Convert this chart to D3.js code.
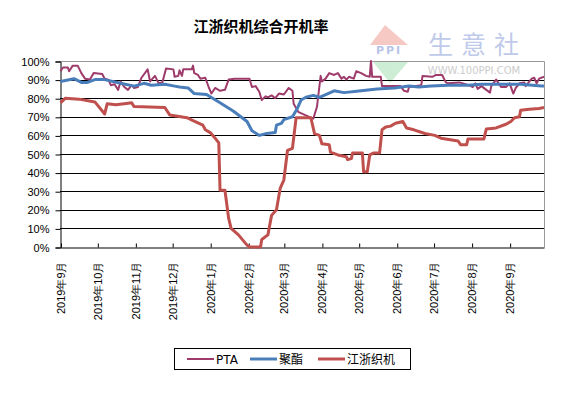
<!DOCTYPE html>
<html>
<head>
<meta charset="utf-8">
<script src="https://cdn.jsdelivr.net/npm/d3@7"></script>
<style>
  body { margin: 0; background: #fff; }
  svg { display: block; font-family: "DejaVu Sans", "Noto Sans CJK SC", sans-serif; }
</style>
</head>
<body>
<div id="chart"></div>
<script>
// Jiangsu/Zhejiang loom operating rate vs PTA and polyester
let seriesNames = ["PTA", "聚酯", "江浙织机"];
let seriesColors = ["#9e3b6b", "#4a7ebb", "#c0504d"];

let ptaDates = ["2019-09-01","2019-09-03","2019-09-07","2019-09-08","2019-09-11","2019-09-15","2019-09-18","2019-09-21","2019-09-25","2019-09-28",
  "2019-10-05","2019-10-07","2019-10-10","2019-10-12","2019-10-15","2019-10-18","2019-10-20","2019-10-23","2019-10-26","2019-10-29","2019-10-31",
  "2019-11-03","2019-11-06","2019-11-11","2019-11-13","2019-11-17","2019-11-20","2019-11-23","2019-11-26","2019-12-02","2019-12-03","2019-12-06",
  "2019-12-07","2019-12-09","2019-12-10","2019-12-17","2019-12-18","2019-12-19","2019-12-22","2019-12-24","2019-12-28","2019-12-31",
  "2020-01-02","2020-01-05","2020-01-09","2020-01-13","2020-01-16","2020-01-21","2020-02-02","2020-02-04","2020-02-07","2020-02-10","2020-02-12",
  "2020-02-15","2020-02-17","2020-02-20","2020-02-23","2020-02-26","2020-03-01","2020-03-05","2020-03-08","2020-03-09","2020-03-13","2020-03-25",
  "2020-03-28","2020-03-31","2020-04-01","2020-04-04","2020-04-07","2020-04-11","2020-04-14","2020-04-17","2020-04-19","2020-04-21","2020-04-23",
  "2020-04-27","2020-04-29","2020-05-03","2020-05-07","2020-05-10","2020-05-11","2020-05-12","2020-05-19","2020-05-20","2020-06-04","2020-06-07",
  "2020-06-10","2020-06-11","2020-06-21","2020-06-22","2020-06-30","2020-07-03","2020-07-08","2020-07-11","2020-07-13","2020-07-22","2020-07-30",
  "2020-08-02","2020-08-04","2020-08-06","2020-08-09","2020-08-13","2020-08-16","2020-08-17","2020-08-21","2020-08-25","2020-08-29","2020-09-01",
  "2020-09-04","2020-09-06","2020-09-09","2020-09-13","2020-09-14","2020-09-19","2020-09-21","2020-09-23","2020-09-25","2020-09-29"];
let ptaRates = [94.5,96.5,96.5,94.5,97.5,97.5,93.5,90.5,90,93.5,
  93,90.5,90,87,87.5,84.5,89,86,84.5,87,85.5,
  86,91,95.5,89,92,88,88.5,96,95.5,91.5,92,
  95,92,95.5,95.5,97.5,93.5,92.5,90.5,91,85.5,
  82.5,85.5,84,84.5,90,90.5,90.5,86,86.5,83.5,79,
  81,80.5,81.5,80,82.5,82,85.5,84,77,72.5,69,
  75.4,92,89,90.5,93.5,92.5,93.5,90.5,91.5,90,91.5,
  90.5,94.5,93.5,92,91.5,100,91.5,91.5,86.5,86.5,84,
  83.5,86,87,92,91.5,92.5,92.5,88.5,88,88.5,87,
  86,88,85,86.5,84.5,83,86.5,90,86,86,88,
  82.5,85.5,88,88.5,86.5,90.5,91,88,90.5,91.5];

let polyDates = ["2019-09-01","2019-09-12","2019-09-18","2019-09-23","2019-09-29","2019-10-07","2019-10-20","2019-10-31","2019-11-08","2019-11-14",
  "2019-11-25","2019-12-03","2019-12-07","2019-12-14","2019-12-19","2019-12-29","2020-01-08","2020-01-20","2020-01-31","2020-02-04",
  "2020-02-10","2020-02-16","2020-02-23","2020-02-24","2020-02-28","2020-03-01","2020-03-08","2020-03-12","2020-03-15","2020-03-19",
  "2020-03-25","2020-03-30","2020-04-06","2020-04-11","2020-04-19","2020-05-03","2020-05-16","2020-05-30","2020-06-11","2020-06-19",
  "2020-06-29","2020-07-13","2020-07-29","2020-08-09","2020-08-25","2020-09-10","2020-09-27","2020-09-29"];
let polyRates = [89,90.5,88.5,88.5,90,90,88,86.5,88,87,
  87.5,86.5,86,85.5,82.5,82,78,73,67.5,62.5,
  60,61,61.5,65.5,66.5,68.5,70,74.5,79,80.5,
  81.5,80.5,82.5,84,83,84,85,85.5,86.5,86,
  86.5,87,87,87.5,87.5,87.5,86.5,86.5];

let loomDates = ["2019-09-01","2019-09-05","2019-09-16","2019-09-29","2019-10-07","2019-10-09","2019-10-16","2019-10-23","2019-10-29","2019-10-31",
  "2019-11-25","2019-11-29","2019-12-13","2019-12-18","2019-12-26","2019-12-28","2020-01-01","2020-01-05","2020-01-08","2020-01-09",
  "2020-01-13","2020-01-16","2020-01-18","2020-01-24","2020-01-31","2020-02-02","2020-02-11","2020-02-12","2020-02-17","2020-02-20",
  "2020-02-24","2020-02-27","2020-03-01","2020-03-04","2020-03-08","2020-03-11","2020-03-23","2020-03-26","2020-03-30","2020-04-01",
  "2020-04-07","2020-04-08","2020-04-14","2020-04-21","2020-04-22","2020-04-25","2020-04-26","2020-05-04","2020-05-05","2020-05-08",
  "2020-05-10","2020-05-13","2020-05-18","2020-05-20","2020-05-23","2020-05-27","2020-05-31","2020-06-06","2020-06-09","2020-06-15",
  "2020-06-24","2020-07-02","2020-07-07","2020-07-21","2020-07-23","2020-07-28","2020-07-29","2020-08-11","2020-08-13","2020-08-21",
  "2020-08-29","2020-09-02","2020-09-05","2020-09-09","2020-09-10","2020-09-17","2020-09-25","2020-09-29"];
let loomRates = [77.5,80,79.5,78,71.5,77,76.5,77,77.5,75.5,
  75,71,69.5,68,65.5,63,61.5,58.5,56,30.5,
  30.5,15.5,10,6.5,1,0,0,4,6.5,17,
  20,31.5,36,52,53,69.5,69.5,61,60,55.5,
  55,51,49.5,48.5,47,47.5,50.5,50.5,40.5,40.5,
  49.5,50.5,50.5,63,64.5,65,66.5,67.5,64,63,
  61,60,58.5,57,55,55,58,58,63.5,64,
  66,67.5,69.5,70,73.5,74,74.5,75];

let yTicks = [0, 10, 20, 30, 40, 50, 60, 70, 80, 90, 100];

let parseDate = d3.timeParse("%Y-%m-%d");
let series = [
  {name: seriesNames[0], color: seriesColors[0], width: 2, values: ptaDates.map((d, i) => ({date: parseDate(d), value: ptaRates[i]}))},
  {name: seriesNames[1], color: seriesColors[1], width: 3, values: polyDates.map((d, i) => ({date: parseDate(d), value: polyRates[i]}))},
  {name: seriesNames[2], color: seriesColors[2], width: 3, values: loomDates.map((d, i) => ({date: parseDate(d), value: loomRates[i]}))}
];

let margin = {top: 61, left: 60, right: 25, bottom: 149},
    width = 569 - margin.left - margin.right,
    height = 396 - margin.top - margin.bottom;

let svg = d3.select("#chart").append("svg")
  .attr("width", 569)
  .attr("height", 396);

// watermark (100ppi logo)
let wm = svg.append("g");
wm.append("path").attr("d", "M385,25 L408,45 L370,45 Z").attr("fill", "#f6c9c4");
wm.append("text").attr("x", 389).attr("y", 54).attr("text-anchor", "middle")
  .attr("font-size", 11).attr("font-weight", "bold").attr("fill", "#b8c4e8")
  .attr("letter-spacing", 2).text("PPI");
wm.append("path").attr("d", "M373,62 L408,62 L390,83 Z").attr("fill", "#cdeed5");
wm.append("text").attr("x", 428).attr("y", 54)
  .attr("font-family", "Noto Sans CJK SC").attr("font-size", 25).attr("fill", "#bfcaea")
  .attr("letter-spacing", 8).text("生意社");
wm.append("text").attr("x", 474).attr("y", 74).attr("text-anchor", "middle")
  .attr("font-size", 10).attr("fill", "#cccccc").text("WWW.100PPI.COM");

// title
svg.append("text")
  .attr("x", 261).attr("y", 32)
  .attr("text-anchor", "middle")
  .attr("font-family", "Noto Sans CJK SC")
  .attr("font-weight", "bold")
  .attr("font-size", 15)
  .text("江浙织机综合开机率");

let g = svg.append("g")
  .attr("transform", "translate(" + margin.left + "," + margin.top + ")");

let xScale = d3.scaleTime()
  .domain([parseDate("2019-09-01"), parseDate("2020-09-29")])
  .range([0.5, width]);

let yScale = d3.scaleLinear()
  .domain([0, 100])
  .range([height, 0]);

// grid lines
g.append("g")
  .selectAll("line")
  .data(yTicks.filter((t) => t > 0 && t < 100))
  .enter().append("line")
  .attr("x1", 0).attr("x2", width)
  .attr("y1", (d) => Math.round(yScale(d)) + 0.5)
  .attr("y2", (d) => Math.round(yScale(d)) + 0.5)
  .attr("stroke", "#000");

// plot border (top + right, gray)
g.append("path")
  .attr("d", "M0.5,0.5 H" + (width + 0.5) + " V" + (height + 0.5))
  .attr("fill", "none")
  .attr("stroke", "#999");

// y axis
let yAxis = g.append("g")
  .attr("transform", "translate(0.5,0.5)")
  .call(d3.axisLeft(yScale).tickValues(yTicks).tickFormat((d) => d + "%").tickSize(5).tickPadding(6));
yAxis.select(".domain").attr("stroke", "#000");
yAxis.selectAll("text").attr("font-size", 11).attr("fill", "#000");

// x axis
let xAxis = g.append("g")
  .attr("transform", "translate(0," + (height + 0.5) + ")")
  .call(d3.axisBottom(xScale)
    .ticks(d3.timeMonth.every(1))
    .tickFormat((d) => d.getFullYear() + "年" + (d.getMonth() + 1) + "月")
    .tickSize(-4)
    .tickSizeOuter(0));
xAxis.select(".domain").attr("stroke", "#000");
xAxis.selectAll("line").attr("transform", "translate(0.5,0)");
xAxis.selectAll("text")
  .attr("transform", "rotate(-90)")
  .attr("x", -14)
  .attr("y", 0)
  .attr("dy", "0.35em")
  .attr("text-anchor", "end")
  .attr("font-size", 11)
  .attr("fill", "#000");

// lines
let line = d3.line()
  .x((d) => xScale(d.date))
  .y((d) => yScale(d.value));

g.selectAll(".series")
  .data(series)
  .enter().append("path")
  .attr("class", "series")
  .attr("d", (d) => line(d.values))
  .attr("fill", "none")
  .attr("stroke", (d) => d.color)
  .attr("stroke-width", (d) => d.width)
  .attr("stroke-linejoin", "round");

// legend
let legend = svg.append("g");
legend.append("rect")
  .attr("x", 174.5).attr("y", 348.5)
  .attr("width", 236).attr("height", 21)
  .attr("fill", "#fff").attr("stroke", "#000");

let legendX = [187, 250, 318];
let items = legend.selectAll(".item")
  .data(series)
  .enter().append("g")
  .attr("class", "item")
  .attr("transform", (d, i) => "translate(" + legendX[i] + ",359)");
items.append("line")
  .attr("x1", 0).attr("x2", 27)
  .attr("stroke", (d) => d.color)
  .attr("stroke-width", (d) => d.width);
items.append("text")
  .attr("x", 29)
  .attr("dy", "0.38em")
  .attr("font-size", 12)
  .text((d) => d.name);
</script>
</body>
</html>
